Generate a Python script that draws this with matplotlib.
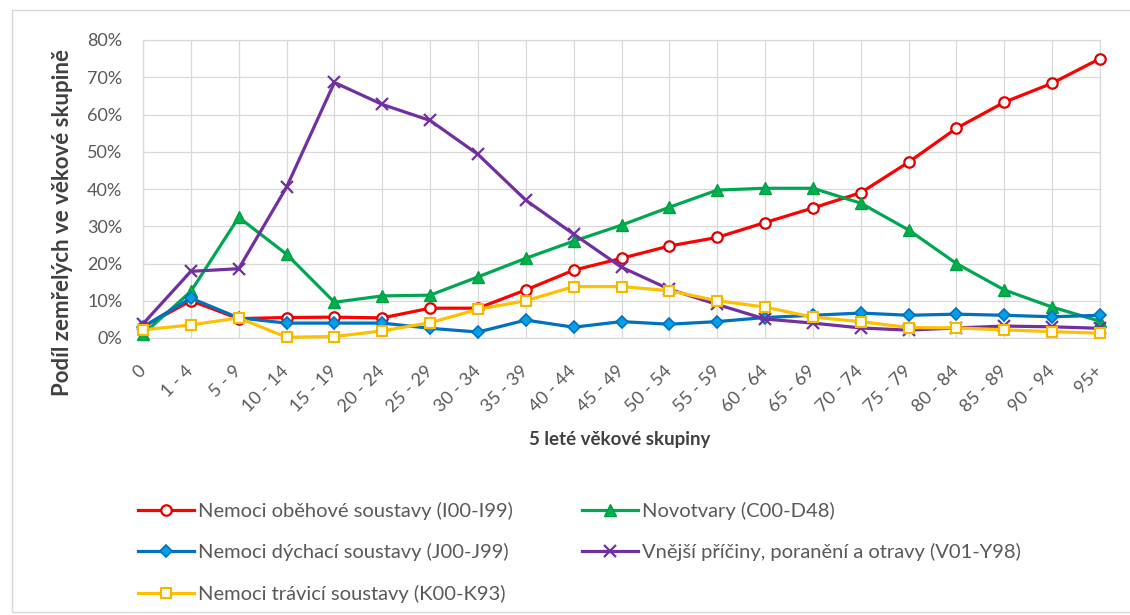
import matplotlib
matplotlib.use("Agg")
import matplotlib.pyplot as plt
from matplotlib.patches import Rectangle
from matplotlib.ticker import FuncFormatter

plt.rcParams['font.family'] = ['Lato', 'DejaVu Sans']

categories = ["0", "1 - 4", "5 - 9", "10 - 14", "15 - 19", "20 - 24", "25 - 29",
              "30 - 34", "35 - 39", "40 - 44", "45 - 49", "50 - 54", "55 - 59",
              "60 - 64", "65 - 69", "70 - 74", "75 - 79", "80 - 84", "85 - 89",
              "90 - 94", "95+"]

obehove = [3.0, 10.0, 5.2, 5.5, 5.6, 5.4, 8.0, 8.0, 12.9, 18.2, 21.4, 24.7, 27.0,
           31.0, 34.9, 39.0, 47.2, 56.3, 63.3, 68.4, 75.0]
novotvary = [1.0, 12.5, 32.4, 22.5, 9.6, 11.3, 11.5, 16.4, 21.4, 26.0, 30.3, 35.1,
             39.7, 40.2, 40.2, 36.2, 29.0, 20.0, 12.9, 8.3, 4.5]
dychaci = [3.0, 10.7, 5.4, 4.0, 4.0, 4.0, 2.6, 1.6, 4.8, 2.9, 4.4, 3.7, 4.4, 5.5,
           6.1, 6.7, 6.1, 6.4, 6.1, 5.7, 6.1]
vnejsi = [3.8, 17.9, 18.6, 40.5, 68.6, 62.7, 58.4, 49.3, 37.0, 27.9, 19.0, 13.1, 9.0,
          5.1, 4.0, 2.7, 2.1, 2.7, 3.2, 3.0, 2.6]
travici = [2.2, 3.5, 5.4, 0.2, 0.4, 1.9, 4.1, 7.7, 10.0, 13.8, 13.8, 12.7, 10.0, 8.3,
           5.6, 4.4, 2.8, 2.7, 2.2, 1.7, 1.3]

labels = ["Nemoci oběhové soustavy (I00-I99)", "Novotvary (C00-D48)",
          "Nemoci dýchací soustavy (J00-J99)",
          "Vnější příčiny, poranění a otravy (V01-Y98)",
          "Nemoci trávicí soustavy (K00-K93)"]

fig = plt.figure(figsize=(11.3, 6.15), dpi=100)
fig.patch.set_facecolor('white')
W, H = 1130, 615
ax = fig.add_axes([143 / W, (H - 338) / H, (1100 - 143) / W, (338 - 40) / H])

x = list(range(len(categories)))
lw = 2.3
styles = [
    dict(color='#FF0000', marker='o', markersize=7.5, markerfacecolor='white',
         markeredgecolor='#E00000', markeredgewidth=1.6),
    dict(color='#00A651', marker='^', markersize=8, markerfacecolor='#00B050',
         markeredgecolor='#00A040', markeredgewidth=1.0),
    dict(color='#0070C0', marker='D', markersize=6.5, markerfacecolor='#00A0E8',
         markeredgecolor='#0070C0', markeredgewidth=1.2),
    dict(color='#7030A0', marker='x', markersize=8, markeredgewidth=1.6),
    dict(color='#FFC000', marker='s', markersize=7.5, markerfacecolor='#FFFBEA',
         markeredgecolor='#F5B800', markeredgewidth=1.5),
]
series = [obehove, novotvary, dychaci, vnejsi, travici]
handles = []
for s, lab, st in zip(series, labels, styles):
    h, = ax.plot(x, [v / 100 for v in s], linewidth=lw, label=lab, clip_on=False,
                 zorder=3, **st)
    handles.append(h)

ax.set_xlim(0, 20)
ax.set_ylim(0, 0.8)
ax.set_yticks([i / 10 for i in range(9)])
ax.yaxis.set_major_formatter(FuncFormatter(lambda v, p: f"{v * 100:.0f}%"))
ax.set_xticks(x)
ax.set_xticklabels(categories, rotation=45, ha='right', va='center',
                   rotation_mode='anchor')
ax.grid(True, color='#d9d9d9', linewidth=0.9)
ax.set_axisbelow(True)
for sp in ax.spines.values():
    sp.set_color('#d9d9d9')
    sp.set_linewidth(0.9)
ax.tick_params(axis='both', length=0, colors='#595959', labelsize=13)
ax.tick_params(axis='y', pad=15)
ax.tick_params(axis='x', pad=22)

ax.set_xlabel("5 leté věkové skupiny", fontsize=13.5, fontweight='bold',
              color='#404040')
ax.xaxis.set_label_coords((620 - 143) / (1100 - 143), -(431 - 338) / (338 - 40))
ax.set_ylabel("Podíl zemřelých ve věkové skupině", fontsize=16,
              fontweight='bold', color='#404040')
ax.yaxis.set_label_coords(-(143 - 73) / (1100 - 143), (338 - 222) / (338 - 40))

order = [0, 2, 4, 1, 3]
leg = fig.legend([handles[i] for i in order], [labels[i] for i in order],
                 loc='upper left', bbox_to_anchor=(130 / W, 1 - 494 / H),
                 ncol=2, frameon=False, fontsize=14.5, handlelength=2.8,
                 handletextpad=0.2, columnspacing=3.4, labelspacing=1.15,
                 borderaxespad=0)
for t in leg.get_texts():
    t.set_color('#595959')

fig.patches.append(Rectangle((12 / W, 1 - 612 / H), (W + 10 - 12) / W,
                             (612 - 10) / H, transform=fig.transFigure,
                             fill=False, edgecolor='#d9d9d9', linewidth=1.0))

fig.savefig("out.png", dpi=100)
